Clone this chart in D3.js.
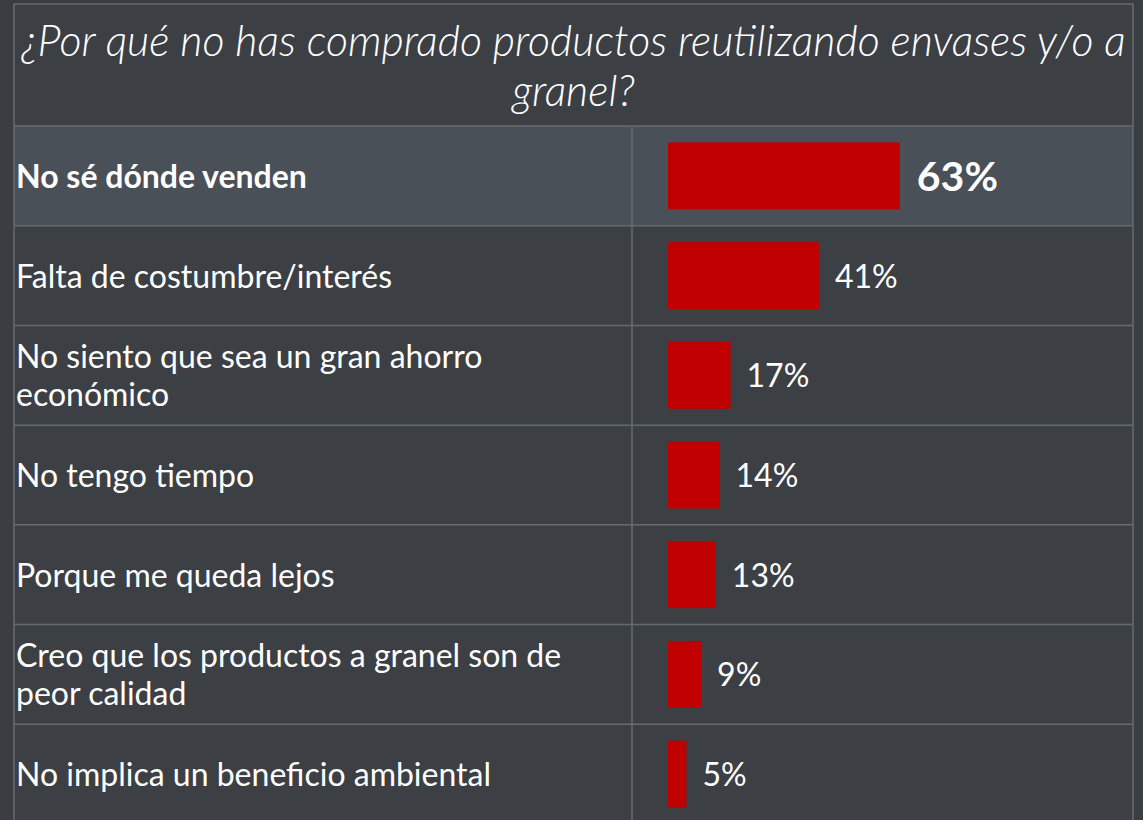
<!DOCTYPE html>
<html>
<head>
<meta charset="utf-8">
<script src="https://cdn.jsdelivr.net/npm/d3@7"></script>
<style>
  html, body { margin: 0; padding: 0; background: #3a3e42; }
  svg { display: block; font-family: Lato, "Open Sans", sans-serif; }
</style>
</head>
<body>
<div id="chart"></div>
<script>
const width = 1143;
const height = 820;

const titleLines = ["¿Por qué no has comprado productos reutilizando envases y/o a", "granel?"];

const categories = [
    "No sé dónde venden",
    "Falta de costumbre/interés",
    "No siento que sea un gran ahorro\neconómico",
    "No tengo tiempo",
    "Porque me queda lejos",
    "Creo que los productos a granel son de\npeor calidad",
    "No implica un beneficio ambiental"
];
const values = [63, 41, 17, 14, 13, 9, 5];
const valueLabels = ["63%", "41%", "17%", "14%", "13%", "9%", "5%"];

const table = { left: 14, right: 1133, top: 4, headerBottom: 126, bottom: 824, divider: 632 };

const svg = d3.select("#chart")
    .append("svg")
    .attr("width", width)
    .attr("height", height);

// table background
svg.append("rect")
    .attr("x", table.left)
    .attr("y", table.top)
    .attr("width", table.right - table.left)
    .attr("height", table.bottom - table.top)
    .attr("fill", "#3c4045");

const yScale = d3.scaleBand()
    .domain(d3.range(categories.length))
    .range([table.headerBottom, table.bottom])
    .paddingInner(0);

const xScale = d3.scaleLinear()
    .domain([0, 100])
    .range([0, 368]);

const barX = 668;
const barH = 67;

// highlighted first row
svg.append("rect")
    .attr("x", table.left)
    .attr("y", yScale(0))
    .attr("width", table.right - table.left)
    .attr("height", yScale.bandwidth())
    .attr("fill", "#4a5058");

// title
svg.append("text")
    .attr("text-anchor", "middle")
    .attr("fill", "#ffffff")
    .attr("font-family", "'Lato Light', Lato, sans-serif")
    .attr("font-size", 43)
    .attr("font-style", "italic")
    .attr("font-weight", 300)
    .selectAll("tspan")
    .data(titleLines)
    .join("tspan")
    .attr("x", (table.left + table.right) / 2)
    .attr("y", (d, i) => 56 + i * 50)
    .text(d => d);

// grid lines
const grid = svg.append("g")
    .attr("stroke", "#646b72")
    .attr("stroke-width", 1.5);

grid.selectAll("line.h")
    .data(d3.range(categories.length + 1))
    .join("line")
    .attr("class", "h")
    .attr("x1", table.left)
    .attr("x2", table.right)
    .attr("y1", i => i < categories.length ? yScale(i) : table.bottom)
    .attr("y2", i => i < categories.length ? yScale(i) : table.bottom);

grid.append("line")
    .attr("x1", table.left).attr("x2", table.right)
    .attr("y1", table.top).attr("y2", table.top);
grid.append("line")
    .attr("x1", table.left).attr("x2", table.left)
    .attr("y1", table.top).attr("y2", table.bottom);
grid.append("line")
    .attr("x1", table.right).attr("x2", table.right)
    .attr("y1", table.top).attr("y2", table.bottom);
grid.append("line")
    .attr("x1", table.divider).attr("x2", table.divider)
    .attr("y1", table.headerBottom).attr("y2", table.bottom);

const rows = svg.selectAll("g.row")
    .data(categories)
    .join("g")
    .attr("class", "row")
    .attr("transform", (d, i) => `translate(0,${yScale(i) + yScale.bandwidth() / 2})`);

// category labels
rows.append("text")
    .attr("fill", "#ffffff")
    .attr("font-size", 32)
    .attr("font-weight", (d, i) => i === 0 ? 700 : 400)
    .each(function(d) {
        const lines = d.split("\n");
        d3.select(this).selectAll("tspan")
            .data(lines)
            .join("tspan")
            .attr("x", 16)
            .attr("y", (l, j) => 12 + (j - (lines.length - 1) / 2) * 38)
            .text(l => l);
    });

// bars
rows.append("rect")
    .attr("x", barX)
    .attr("y", -barH / 2)
    .attr("width", (d, i) => xScale(values[i]))
    .attr("height", barH)
    .attr("fill", "#c00000");

// value labels
rows.append("text")
    .attr("x", (d, i) => barX + xScale(values[i]) + (i === 0 ? 17 : 16))
    .attr("y", (d, i) => i === 0 ? 15 : 12)
    .attr("fill", "#ffffff")
    .attr("font-size", (d, i) => i === 0 ? 41 : 32)
    .attr("font-weight", (d, i) => i === 0 ? 700 : 400)
    .text((d, i) => valueLabels[i]);
</script>
</body>
</html>
